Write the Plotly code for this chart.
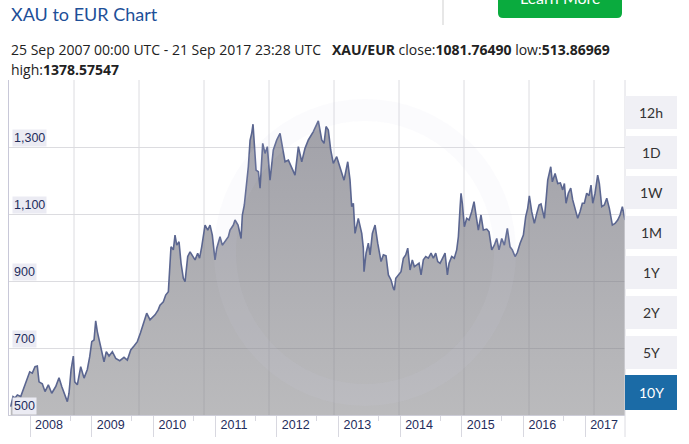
import plotly.graph_objects as go

# ---- data (decimal year, EUR per XAU) ----
years = [
    2007.687, 2007.724, 2007.757, 2007.794, 2007.849, 2007.903, 2007.956, 2007.995,
    2008.037, 2008.081, 2008.118, 2008.146, 2008.199, 2008.243, 2008.297, 2008.352,
    2008.417, 2008.470, 2008.514, 2008.556, 2008.605, 2008.632, 2008.665, 2008.702,
    2008.725, 2008.767, 2008.822, 2008.876, 2008.929, 2008.968, 2009.001, 2009.038,
    2009.065, 2009.091, 2009.130, 2009.172, 2009.200, 2009.237, 2009.281, 2009.335,
    2009.390, 2009.455, 2009.524, 2009.578, 2009.633, 2009.686, 2009.740, 2009.790,
    2009.837, 2009.892, 2009.946, 2010.027, 2010.076, 2010.108, 2010.162, 2010.200,
    2010.243, 2010.259, 2010.286, 2010.324, 2010.351, 2010.379, 2010.416, 2010.449,
    2010.486, 2010.514, 2010.557, 2010.595, 2010.648, 2010.676, 2010.719, 2010.749,
    2010.784, 2010.838, 2010.882, 2010.919, 2010.956, 2011.000, 2011.028, 2011.081,
    2011.118, 2011.162, 2011.216, 2011.243, 2011.297, 2011.324, 2011.373, 2011.422,
    2011.443, 2011.475, 2011.514, 2011.540, 2011.568, 2011.595, 2011.616, 2011.638,
    2011.665, 2011.703, 2011.730, 2011.773, 2011.811, 2011.848, 2011.892, 2011.945,
    2012.000, 2012.054, 2012.098, 2012.135, 2012.189, 2012.243, 2012.297, 2012.351,
    2012.406, 2012.459, 2012.513, 2012.594, 2012.675, 2012.730, 2012.768, 2012.800,
    2012.837, 2012.876, 2012.918, 2012.973, 2013.027, 2013.092, 2013.152, 2013.189,
    2013.216, 2013.243, 2013.270, 2013.323, 2013.379, 2013.405, 2013.416, 2013.449,
    2013.486, 2013.514, 2013.551, 2013.595, 2013.638, 2013.659, 2013.692, 2013.730,
    2013.773, 2013.811, 2013.854, 2013.892, 2013.908, 2013.931, 2013.973, 2014.016,
    2014.054, 2014.092, 2014.125, 2014.162, 2014.199, 2014.232, 2014.271, 2014.308,
    2014.341, 2014.378, 2014.417, 2014.459, 2014.503, 2014.540, 2014.579, 2014.611,
    2014.649, 2014.686, 2014.730, 2014.768, 2014.795, 2014.838, 2014.880, 2014.919,
    2014.946, 2014.973, 2014.989, 2015.010, 2015.043, 2015.081, 2015.119, 2015.162,
    2015.200, 2015.232, 2015.270, 2015.313, 2015.351, 2015.406, 2015.443, 2015.487,
    2015.529, 2015.568, 2015.605, 2015.649, 2015.692, 2015.740, 2015.784, 2015.821,
    2015.865, 2015.902, 2015.946, 2016.000, 2016.038, 2016.070, 2016.097, 2016.135,
    2016.178, 2016.217, 2016.254, 2016.286, 2016.314, 2016.340, 2016.368, 2016.395,
    2016.444, 2016.470, 2016.514, 2016.557, 2016.600, 2016.638, 2016.665, 2016.692,
    2016.729, 2016.768, 2016.800, 2016.838, 2016.881, 2016.919, 2016.956, 2016.989,
    2017.027, 2017.065, 2017.097, 2017.125, 2017.162, 2017.205, 2017.232, 2017.271,
    2017.313, 2017.352, 2017.394, 2017.443, 2017.486, 2017.530, 2017.568, 2017.605,
    2017.630, 2017.648,
]
prices = [
    525, 555, 551, 560, 555, 581, 604, 629,
    625, 644, 646, 599, 593, 570, 590, 565,
    585, 611, 585, 565, 540, 565, 634, 676,
    599, 590, 644, 610, 636, 674, 719, 724,
    781, 749, 714, 684, 659, 689, 676, 689,
    669, 662, 672, 664, 694, 706, 719, 745,
    775, 804, 784, 799, 813, 828, 838, 858,
    868, 933, 1002, 993, 1037, 1007, 1017, 953,
    908, 898, 973, 987, 973, 963, 983, 968,
    1002, 1067, 1052, 1067, 1037, 963, 998, 1032,
    1007, 1017, 1032, 1052, 1067, 1082, 1067, 1027,
    1097, 1127, 1200, 1241, 1320, 1341, 1368, 1311,
    1231, 1226, 1177, 1311, 1281, 1301, 1201, 1291,
    1321, 1341, 1301, 1256, 1261, 1241, 1216, 1301,
    1256, 1296, 1321, 1346, 1378, 1321, 1311, 1361,
    1351, 1291, 1251, 1271, 1241, 1201, 1256, 1201,
    1122, 1132, 1042, 1087, 1042, 998, 928, 983,
    1013, 978, 1042, 1067, 1013, 993, 958, 978,
    975, 918, 903, 878, 873, 908, 918, 928,
    968, 978, 998, 933, 963, 943, 948, 953,
    918, 963, 973, 968, 983, 968, 983, 958,
    953, 968, 983, 918, 953, 973, 968, 993,
    1032, 1117, 1162, 1132, 1062, 1087, 1082, 1107,
    1137, 1097, 1052, 1097, 1052, 1055, 1047, 993,
    1007, 1027, 993, 1027, 1007, 1057, 1002, 993,
    973, 985, 1012, 1037, 1092, 1117, 1154, 1107,
    1072, 1102, 1127, 1130, 1102, 1087, 1142, 1201,
    1241, 1196, 1221, 1191, 1193, 1172, 1191, 1132,
    1162, 1177, 1142, 1117, 1087, 1107, 1132, 1132,
    1162, 1155, 1186, 1132, 1162, 1216, 1191, 1122,
    1127, 1147, 1117, 1067, 1072, 1082, 1097, 1122,
    1102, 1082,
]

year_ticks = list(range(2008, 2018))
year_labels = [str(y) for y in year_ticks]
y_ticks = [500, 700, 900, 1100, 1300, 1500]
y_labels = ["500", "700", "900", "1,100", "1,300"]
buttons = ["12h", "1D", "1W", "1M", "1Y", "2Y", "5Y", "10Y"]
active_button = "10Y"

title_text = "XAU to EUR Chart"
range_text = ("25 Sep 2007 00:00 UTC - 21 Sep 2017 23:28 UTC&nbsp;&nbsp;&nbsp;"
              "<b>XAU/EUR</b> close:<b>1081.76490</b> low:<b>513.86969</b>")
high_text = "high:<b>1378.57547</b>"

# ---- geometry helpers (pixel -> paper) ----
W, H = 689, 444
L, R, T, B = 9, 625, 80, 415


def px(X):
    return (X - L) / (R - L)


def py(Y):
    return (B - Y) / (B - T)


NAVY = "#1f2d5c"
FONT = "Lato"
HFONT = "Open Sans"

fig = go.Figure()
fig.add_trace(go.Scatter(
    x=years, y=prices, mode="lines",
    line=dict(color="#5b6690", width=1.6),
    fill="tozeroy",
    fillgradient=dict(
        type="vertical",
        colorscale=[[0, "rgba(130,130,134,0.55)"], [1, "rgba(104,104,116,0.62)"]],
        start=500, stop=1380,
    ),
    hoverinfo="skip", showlegend=False,
))

shapes = []
# vertical grid lines (evenly spaced, as in the reference)
for k in range(1, 10):
    X = L + 65 * k
    shapes.append(dict(type="line", xref="paper", yref="paper",
                       x0=px(X), x1=px(X), y0=0, y1=1,
                       line=dict(color="#dcdce0", width=1), layer="below"))
# right border of chart incl. label strip
shapes.append(dict(type="line", xref="paper", yref="paper",
                   x0=1, x1=1, y0=py(437), y1=1,
                   line=dict(color="#dcdce2", width=1)))
# watermark ring (very faint)
shapes.append(dict(type="circle", xref="paper", yref="paper",
                   x0=px(225), x1=px(505), y0=py(395), y1=py(110),
                   line=dict(color="rgba(215,215,228,0.09)", width=22),
                   layer="above"))
# range buttons
annotations = []
for i, lab in enumerate(buttons):
    top = 96 + 40 * i
    bot = top + 33
    act = lab == active_button
    if act:
        top -= 1
        bot += 1
    shapes.append(dict(type="rect", xref="paper", yref="paper",
                       x0=px(625), x1=px(677), y0=py(bot), y1=py(top),
                       fillcolor="#1b6ba6" if act else "#f0f0f5",
                       line=dict(width=0)))
    annotations.append(dict(text=lab, xref="paper", yref="paper",
                            x=px(651), y=py((top + bot) / 2),
                            xanchor="center", yanchor="middle", showarrow=False,
                            font=dict(family=FONT, size=14,
                                      color="#ffffff" if act else "#333333")))
# header separator
shapes.append(dict(type="line", xref="paper", yref="paper",
                   x0=px(443), x1=px(443), y0=py(0), y1=py(25),
                   line=dict(color="#cfcfcf", width=1)))
# green button (rounded bottom corners), cut by the top edge as in the reference
x0b, x1b, yb, r = px(498), px(622), py(18), 5
rx = r / (R - L)
ry = r / (B - T)
ytop = py(-20)
shapes.append(dict(type="path", xref="paper", yref="paper",
                   path=(f"M {x0b},{ytop} L {x1b},{ytop} L {x1b},{yb + ry} "
                         f"Q {x1b},{yb} {x1b - rx},{yb} L {x0b + rx},{yb} "
                         f"Q {x0b},{yb} {x0b},{yb + ry} Z"),
                   fillcolor="#0aab3e", line=dict(width=0)))
annotations.append(dict(text="Learn More", xref="paper", yref="paper",
                        x=px(560), y=py(-2), xanchor="center", yanchor="middle",
                        showarrow=False, font=dict(family=FONT, size=16, color="#ffffff")))

# y labels inside the plot
for v, lab in zip(y_ticks, y_labels):
    annotations.append(dict(text=lab, xref="paper", yref="y",
                            x=px(12), y=v, xanchor="left", yanchor="bottom",
                            showarrow=False, bgcolor="#ebebf3", borderpad=1,
                            font=dict(family="Liberation Sans", size=12.5, color=NAVY)))

# header texts
annotations.append(dict(text=title_text, xref="paper", yref="paper",
                        x=px(9), y=py(14), xanchor="left", yanchor="middle",
                        showarrow=False, font=dict(family=FONT, size=18, color="#1e4f98")))
annotations.append(dict(text=range_text, xref="paper", yref="paper",
                        x=px(9), y=py(49), xanchor="left", yanchor="middle",
                        showarrow=False, font=dict(family=HFONT, size=14, color="#222222")))
annotations.append(dict(text=high_text, xref="paper", yref="paper",
                        x=px(9), y=py(69), xanchor="left", yanchor="middle",
                        showarrow=False, font=dict(family=HFONT, size=14, color="#222222")))

fig.update_layout(
    width=W, height=H,
    margin=dict(l=L, r=W - R, t=T, b=H - B),
    paper_bgcolor="#ffffff", plot_bgcolor="#ffffff",
    font=dict(family=FONT),
    xaxis=dict(
        range=[2007.659, 2017.648], tickmode="array",
        tickvals=year_ticks, ticktext=year_labels,
        ticks="outside", ticklen=21, tickcolor="#d8d8e0", tickwidth=1,
        ticklabelshift=19, ticklabelstandoff=-23,
        tickfont=dict(family="Liberation Sans", size=12.5, color=NAVY),
        showgrid=False, zeroline=False,
        showline=True, linecolor="#cdcdd8", linewidth=1,
        minor=dict(tick0=2008.65, dtick=1, ticks="outside", ticklen=5,
                   tickcolor="#d8d8e0", showgrid=False),
        fixedrange=True,
    ),
    yaxis=dict(
        range=[500, 1500], tickmode="array", tickvals=y_ticks,
        showticklabels=False, ticks="",
        showgrid=True, gridcolor="#dcdce0", gridwidth=1,
        zeroline=False, showline=True, linecolor="#c8c8d8", linewidth=1,
        fixedrange=True,
    ),
    shapes=shapes, annotations=annotations,
)

fig.write_html("out.html", config={"displayModeBar": False},
               post_script="document.body.style.margin='0';document.body.style.overflow='hidden';")
